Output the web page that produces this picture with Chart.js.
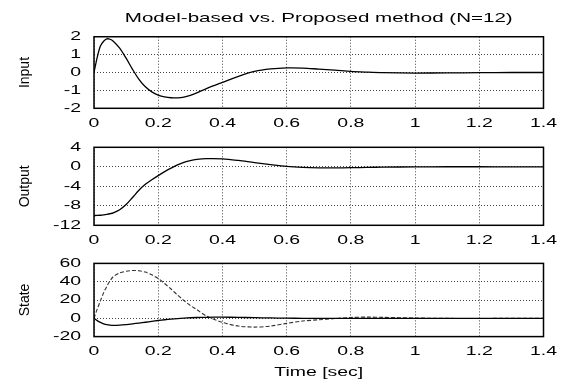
<!DOCTYPE html>
<html>
<head>
<meta charset="utf-8">
<script src="https://cdn.jsdelivr.net/npm/chart.js@4"></script>
<style>
  body { margin: 0; background: #fff; }
  #wrap { position: relative; width: 567px; height: 380px; background: #fff; }
  canvas { position: absolute; left: 0; }
</style>
</head>
<body>
<div id="wrap">
  <canvas id="c1" width="567" height="130" style="top:0px"></canvas>
  <canvas id="c2" width="567" height="120" style="top:130px"></canvas>
  <canvas id="c3" width="567" height="130" style="top:250px"></canvas>
</div>
<script>
// data
var time = [0, 0.01, 0.02, 0.03, 0.04, 0.05, 0.06, 0.08, 0.10, 0.12, 0.14, 0.16, 0.18, 0.20,
  0.22, 0.24, 0.26, 0.28, 0.30, 0.32, 0.35, 0.40, 0.45, 0.50, 0.55, 0.60, 0.65, 0.70,
  0.75, 0.80, 0.85, 0.90, 1.00, 1.10, 1.20, 1.30, 1.40];

var input = [0, 0.85, 1.48, 1.75, 1.88, 1.86, 1.75, 1.36, 0.8, 0.18, -0.38, -0.8, -1.08, -1.26,
  -1.36, -1.41, -1.42, -1.38, -1.28, -1.14, -0.9, -0.55, -0.21, 0.06, 0.2, 0.26, 0.25, 0.19,
  0.13, 0.06, 0.02, -0.01, -0.03, -0.02, -0.01, 0, 0];

var output = [-10, -9.98, -9.94, -9.87, -9.77, -9.63, -9.44, -8.8, -7.75, -6.3, -4.8, -3.6, -2.65, -1.8,
  -1.0, -0.28, 0.38, 0.9, 1.28, 1.52, 1.68, 1.64, 1.3, 0.85, 0.45, 0.1, -0.1, -0.2,
  -0.22, -0.18, -0.12, -0.07, -0.01, 0.01, 0.01, 0, 0];

var state1 = [0, -2.5, -4.5, -6, -7, -7.5, -7.7, -7.5, -6.9, -6.1, -5.2, -4.3, -3.3, -2.4,
  -1.6, -0.9, -0.3, 0.2, 0.6, 0.9, 1.1, 1.2, 1.0, 0.7, 0.4, 0.15, 0, -0.1,
  -0.15, -0.15, -0.1, -0.05, 0, 0, 0, 0, 0];

var state2 = [0, 10, 19, 28, 35, 41, 45.5, 49.5, 51.4, 52.2, 52, 50.5, 47.5, 43.5,
  38, 32, 25.5, 19.5, 14, 9.5, 2.5, -4.5, -8.5, -9.6, -8.5, -5.5, -3, -1.6,
  -0.3, 0.9, 1.3, 1.0, 0.3, -0.1, -0.2, 0, 0];

var xTicks = ['0', '0.2', '0.4', '0.6', '0.8', '1', '1.2', '1.4'];

var FONT = "'Liberation Sans', Arial, sans-serif";
var TEXT_STRETCH = 1.62;

// the original text is wide, so stretch horizontal labels
var stretchText = {
  id: 'stretchText',
  beforeInit: function (chart) {
    var ctx = chart.ctx;
    var fill = ctx.fillText.bind(ctx);
    ctx.fillText = function (text, x, y) {
      if (ctx.getTransform().b !== 0) return fill(text, x, y);
      ctx.save();
      ctx.translate(x, y);
      ctx.scale(TEXT_STRETCH, 1);
      fill(text, 0, 0);
      ctx.restore();
    };
  }
};

// box round the plot area
var frame = {
  id: 'frame',
  afterDatasetsDraw: function (chart) {
    var a = chart.chartArea;
    var ctx = chart.ctx;
    ctx.save();
    ctx.strokeStyle = '#000';
    ctx.lineWidth = 1.5;
    ctx.strokeRect(a.left, a.top, a.right - a.left, a.bottom - a.top);
    ctx.restore();
  }
};

function points(values) {
  return time.map(function (t, i) { return { x: t, y: values[i] }; });
}

function line(values, dashed) {
  return {
    data: points(values),
    borderColor: dashed ? '#333' : '#000',
    borderWidth: dashed ? 1.1 : 1.3,
    borderDash: dashed ? [4, 2] : [],
    pointRadius: 0,
    tension: 0.3
  };
}

function panel(id, p) {
  return new Chart(document.getElementById(id), {
    type: 'line',
    data: { datasets: p.datasets },
    options: {
      responsive: false,
      animation: false,
      layout: { padding: { top: p.padTop, right: 23.5, bottom: 0, left: 0 } },
      plugins: {
        legend: { display: false },
        tooltip: { enabled: false },
        title: {
          display: !!p.title,
          text: p.title,
          fullSize: false,
          color: '#000',
          font: { family: FONT, size: 12.7, weight: 'normal' },
          padding: { top: 11, bottom: 10.5 }
        }
      },
      scales: {
        x: {
          type: 'linear',
          min: 0, max: 1.4,
          border: { display: false, dash: [1, 2] },
          grid: { color: '#444', lineWidth: 1, drawTicks: false },
          ticks: {
            stepSize: 0.2,
            padding: 8,
            color: '#000',
            maxRotation: 0,
            autoSkip: false,
            font: { family: FONT, size: 12 },
            callback: function (v, i) { return xTicks[i]; }
          },
          title: {
            display: !!p.xTitle,
            text: p.xTitle,
            color: '#000',
            font: { family: FONT, size: 12 },
            padding: { top: 0, bottom: 0.5 }
          },
          afterFit: function (s) {
            s.height = p.xHeight;
            s.paddingLeft = 0;
            s.paddingRight = 0;
          }
        },
        y: {
          min: p.yMin, max: p.yMax,
          border: { display: false, dash: [1, 2] },
          grid: { color: '#444', lineWidth: 1, drawTicks: false },
          ticks: {
            stepSize: p.yStep,
            padding: 13,
            autoSkip: false,
            color: '#000',
            font: { family: FONT, size: 12 }
          },
          title: {
            display: true,
            text: p.yTitle,
            color: '#000',
            font: { family: FONT, size: 14 },
            padding: { top: 16.6, bottom: 0 }
          },
          afterFit: function (s) {
            s.width = 94;
            s.paddingTop = 0;
            s.paddingBottom = 0;
          }
        }
      }
    },
    plugins: [stretchText, frame]
  });
}

panel('c1', {
  title: 'Model-based vs. Proposed method (N=12)',
  padTop: 0, xHeight: 21.7,
  yMin: -2, yMax: 2, yStep: 1, yTitle: 'Input',
  datasets: [line(input, false)]
});

panel('c2', {
  padTop: 17.3, xHeight: 24.7,
  yMin: -12, yMax: 4, yStep: 4, yTitle: 'Output',
  datasets: [line(output, false)]
});

panel('c3', {
  padTop: 13.4, xHeight: 43.4, xTitle: 'Time [sec]',
  yMin: -20, yMax: 60, yStep: 20, yTitle: 'State',
  datasets: [line(state1, false), line(state2, true)]
});
</script>
</body>
</html>
